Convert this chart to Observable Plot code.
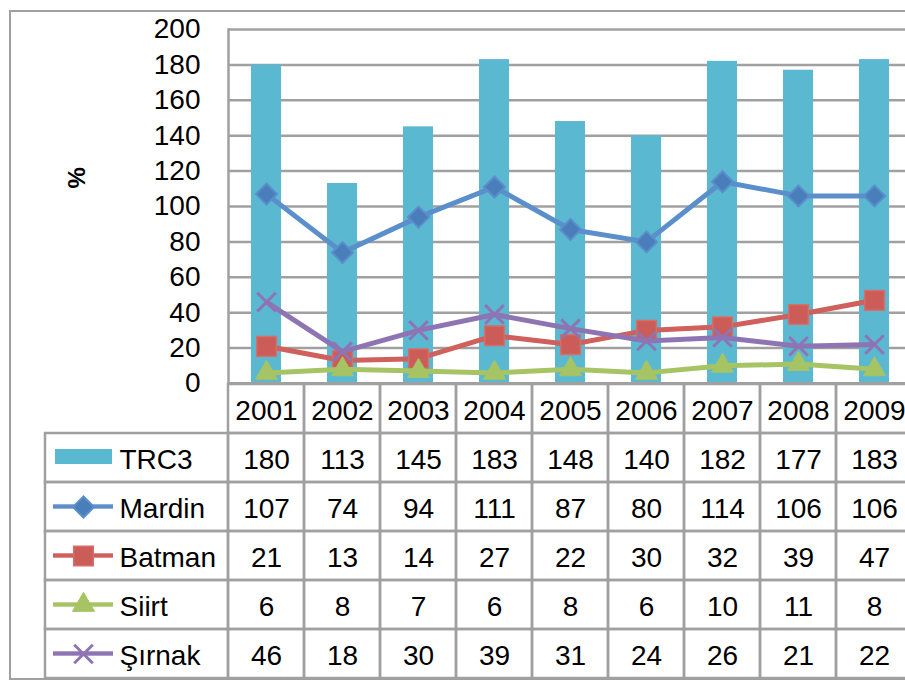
<!DOCTYPE html>
<html><head><meta charset="utf-8">
<script src="https://cdn.jsdelivr.net/npm/d3@7"></script>
<script src="https://cdn.jsdelivr.net/npm/@observablehq/plot@0.6"></script>
<style>
body{margin:0;background:#fff;}
#wrap{position:relative;width:905px;height:681px;overflow:hidden;background:#fff;font-family:"Liberation Sans",Arial,sans-serif;}
#wrap svg{position:absolute;left:0;top:0;}
#border{position:absolute;left:9px;top:10px;width:930px;height:670px;border:2px solid #a0a0a0;box-sizing:border-box;}
</style></head><body><div id="wrap"><div id="border"></div></div>
<script>
// ---- data ----
const years = ["2001","2002","2003","2004","2005","2006","2007","2008","2009"];
const trc3   = [180,113,145,183,148,140,182,177,183];
const mardin = [107,74,94,111,87,80,114,106,106];
const batman = [21,13,14,27,22,30,32,39,47];
const siirt  = [6,8,7,6,8,6,10,11,8];
const sirnak = [46,18,30,39,31,24,26,21,22];
const seriesNames = ["TRC3","Mardin","Batman","Siirt","Şırnak"];
const lineNames = ["Mardin","Batman","Siirt","Şırnak"];
const seriesValues = {"TRC3":trc3,"Mardin":mardin,"Batman":batman,"Siirt":siirt,"Şırnak":sirnak};
const yTicks = [0,20,40,60,80,100,120,140,160,180,200];

// ---- styles ----
const W = 905, H = 681;
const FONT = "Liberation Sans, Arial, sans-serif";
const GRID = "#a0a0a0";
const barColor = "#5ab8d1";
const lineStyle = {
  "Mardin": {line:"#5b8fcb", fill:"#4a7ebb", stroke:"#5b8fcb", symbol:"diamond2", r:9.5, sw:2},
  "Batman": {line:"#cf605b", fill:"#cc5c57", stroke:"#d46f6a", symbol:"square2", r:12.5, sw:1.5},
  "Siirt":  {line:"#a6c463", fill:"#a6c463", stroke:"#a6c463", symbol:"triangle2", r:10.5, sw:1},
  "Şırnak": {line:"#8f74b3", fill:"none", stroke:"#8f74b3", symbol:"times", r:8.5, sw:3}
};
const xRange = [226.5, 913.5];
const tableRange = [383, 678];

const barData = years.map((y,i)=>({year:y, value:trc3[i]}));
const lineData = name => years.map((y,i)=>({year:y, value:seriesValues[name][i]}));

const wrap = document.getElementById("wrap");

// ---- main chart ----
const chart = Plot.plot({
  width:W, height:H,
  marginLeft:228, marginRight:0, marginTop:29, marginBottom:H-383,
  style:{background:"transparent", fontFamily:FONT, color:"black"},
  x:{type:"band", domain:years, range:xRange, padding:0, axis:null},
  y:{domain:[0,200], range:[383,29]},
  marks:[
    Plot.gridY(yTicks.slice(1), {stroke:GRID, strokeOpacity:1, strokeWidth:2.5}),
    Plot.barY(barData, {x:"year", y:"value", fill:barColor, insetLeft:23, insetRight:23}),
    ...lineNames.flatMap(n => {
      const s = lineStyle[n];
      return [
        Plot.line(lineData(n), {x:"year", y:"value", stroke:s.line, strokeWidth:5, strokeLinejoin:"round", strokeLinecap:"round"}),
        Plot.dot(lineData(n), {x:"year", y:"value", symbol:s.symbol, r:s.r, fill:s.fill, stroke:s.stroke, strokeWidth:s.sw, fillOpacity:1})
      ];
    }),
    Plot.ruleY([0], {stroke:GRID, strokeWidth:3}),
    Plot.frame({anchor:"left", stroke:GRID, strokeWidth:2.5}),
    Plot.axisY(yTicks, {tickSize:0, tickPadding:28, fontSize:28, label:null}),
    Plot.text(["%"], {frameAnchor:"left", dx:-151, dy:-18, rotate:-90, fontSize:24, fontWeight:"bold", fill:"black"})
  ]
});
wrap.appendChild(chart);

// ---- data table ----
const rows = ["header", ...seriesNames];
const cells = [];
years.forEach((y,i)=>{
  cells.push({year:y, row:"header", text:y});
  seriesNames.forEach(s => cells.push({year:y, row:s, text:String(seriesValues[s][i])}));
});
const table = Plot.plot({
  width:W, height:H,
  marginLeft:228, marginRight:0, marginTop:383, marginBottom:H-678,
  style:{background:"transparent", fontFamily:FONT, color:"black"},
  x:{type:"band", domain:years, range:xRange, padding:0, axis:null},
  y:{type:"band", domain:rows, range:tableRange, padding:0, axis:null},
  marks:[
    Plot.cell(cells, {x:"year", y:"row", fill:"none", stroke:GRID, strokeWidth:2.5}),
    Plot.text(cells, {x:"year", y:"row", text:"text", fontSize:28, dy:2, fill:"black"})
  ]
});
wrap.appendChild(table);

// ---- legend column of the table ----
const keyX = () => "key";
const legend = Plot.plot({
  width:W, height:H,
  marginLeft:45, marginRight:W-228, marginTop:383, marginBottom:H-678,
  style:{background:"transparent", fontFamily:FONT, color:"black"},
  x:{type:"band", domain:["key"], range:[45,228], padding:0, axis:null},
  y:{type:"band", domain:rows, range:tableRange, padding:0, axis:null},
  marks:[
    Plot.cell(seriesNames, {x:keyX, y:d=>d, fill:"none", stroke:GRID, strokeWidth:2.5}),
    Plot.cell(["TRC3"], {x:keyX, y:d=>d, fill:barColor, insetLeft:10, insetRight:116, insetTop:16, insetBottom:18}),
    ...lineNames.flatMap(n => {
      const s = lineStyle[n];
      return [
        Plot.cell([n], {x:keyX, y:d=>d, fill:s.line, insetLeft:8, insetRight:115, insetTop:22.3, insetBottom:22.3}),
        Plot.dot([n], {x:keyX, y:d=>d, dx:-53.5, symbol:s.symbol, r:s.r, fill:s.fill, stroke:s.stroke, strokeWidth:s.sw})
      ];
    }),
    Plot.text(seriesNames, {x:keyX, y:d=>d, text:d=>d, textAnchor:"start", dx:-17.5, dy:2, fontSize:28, fill:"black"})
  ]
});
wrap.appendChild(legend);
</script>
</body></html>
